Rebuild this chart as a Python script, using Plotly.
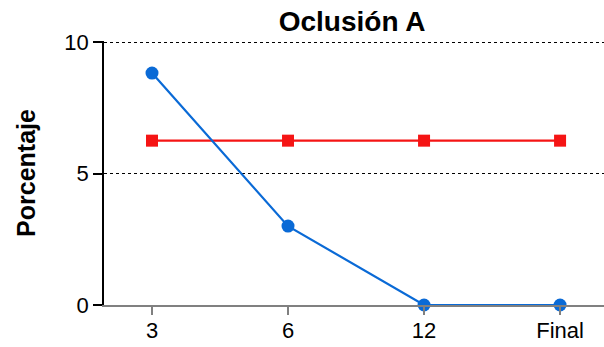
import plotly.graph_objects as go

# Measurement points and series values (percent)
categories = ["3", "6", "12", "Final"]
blue_values = [8.82, 3.0, 0.0, 0.0]
red_values = [6.25, 6.25, 6.25, 6.25]
y_ticks = [0, 5, 10]

BLUE = "#0a6ad6"
RED = "#f51414"
FONT = "Liberation Sans, Arial, sans-serif"

x_pos = list(range(len(categories)))

fig = go.Figure()
fig.add_trace(go.Scatter(
    x=x_pos, y=red_values, mode="lines+markers",
    line=dict(color=RED, width=2.2),
    marker=dict(symbol="square", size=12, color=RED),
    showlegend=False, cliponaxis=False,
))
fig.add_trace(go.Scatter(
    x=x_pos, y=blue_values, mode="lines+markers",
    line=dict(color=BLUE, width=2.2),
    marker=dict(symbol="circle", size=13, color=BLUE),
    showlegend=False, cliponaxis=False,
))

fig.update_layout(
    width=604, height=347,
    margin=dict(l=104, r=0, t=41, b=42),
    paper_bgcolor="white", plot_bgcolor="white",
    font=dict(family=FONT, size=22, color="black"),
    title=dict(text="<b>Oclusión A</b>", x=0.583, xanchor="center",
               y=0.94, yanchor="middle", font=dict(size=28)),
    xaxis=dict(
        tickvals=x_pos, ticktext=categories,
        range=[-0.353, 3.323],
        showline=True, linecolor="#808080", linewidth=1.5,
        ticks="outside", ticklen=8, tickcolor="#808080", tickwidth=1.5,
        showgrid=False, zeroline=False,
        tickfont=dict(size=22), ticklabelstandoff=-3,
    ),
    yaxis=dict(
        range=[0, 10.04], tickvals=y_ticks,
        showline=True, linecolor="black", linewidth=1.5,
        ticks="outside", ticklen=9, tickcolor="black", tickwidth=1.5,
        showgrid=True, gridcolor="black", griddash="dot", gridwidth=1,
        zeroline=False,
        tickfont=dict(size=22),
        title=dict(text="<b>Porcentaje</b>", font=dict(size=25), standoff=22),
    ),
)

fig.write_html("out.html")
